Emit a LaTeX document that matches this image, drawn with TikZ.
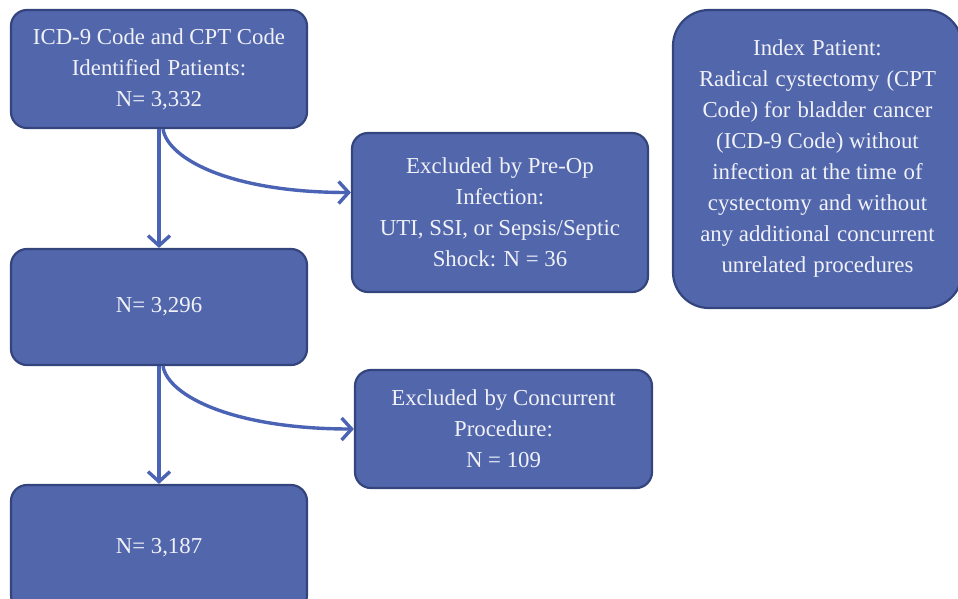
\documentclass[tikz,border=0pt]{standalone}
\usepackage{fontspec}
\setmainfont{Liberation Serif}
\usetikzlibrary{arrows.meta}
\definecolor{boxfill}{HTML}{5266AC}
\definecolor{boxedge}{HTML}{34457E}
\definecolor{arrowc}{HTML}{4A63B4}
\definecolor{txt}{HTML}{F0F2F7}
\newcommand{\wsp}{\hspace{0.06em}}
\begin{document}
\begin{tikzpicture}[x=1pt,y=-1pt,
  flowbox/.style={draw=boxedge, line width=2.2pt, fill=boxfill, rounded corners=16pt,
    text=txt, align=center, inner sep=0pt, font=\fontsize{22.8}{31}\selectfont},
  flowarrow/.style={draw=arrowc, line width=3.4pt, -{Straight Barb[length=10pt,width=22pt]}}]
\useasboundingbox (0,0) rectangle (958,598);
\clip (0,0) rectangle (958,598);
\node[flowbox, minimum width=296pt, minimum height=118pt] (b1) at (159,69)
  {ICD-9 Code and CPT Code\\Identified\wsp\ Patients:\\N= 3,332};
\node[flowbox, minimum width=296pt, minimum height=116pt] (b2) at (159,307) {N= 3,296};
\node[flowbox, minimum width=296pt, minimum height=126pt] (b3) at (159,548) {N= 3,187};
\node[flowbox, minimum width=296pt, minimum height=159pt] (b4) at (500,212.5)
  {Excluded\wsp\ by Pre-Op\\Infection:\\UTI, SSI, or Sepsis/Septic\\Shock: N = 36};
\node[flowbox, minimum width=297pt, minimum height=118pt] (b5) at (503.5,429)
  {Excluded\wsp\ by Concurrent\\Procedure:\\N = 109};
\node[flowbox, rounded corners=36pt, minimum width=289pt, minimum height=298pt] (b6) at (817.5,159)
  {Index\wsp\ Patient:\\Radical\wsp\ cystectomy\wsp\ (CPT\\Code) for\wsp\ bladder\wsp\ cancer\\(ICD-9 Code) without\\infection\wsp\ at the time\wsp\ of\\cystectomy\wsp\ and without\\any additional\wsp\ concurrent\\unrelated\wsp\ procedures};
\draw[flowarrow] (b1.south) -- (b2.north);
\draw[flowarrow] ([xshift=4pt]b1.south) .. controls +(5,30) and +(-120,0) .. ([yshift=20pt]b4.west);
\draw[flowarrow] (b2.south) -- (b3.north);
\draw[flowarrow] ([xshift=4pt]b2.south) .. controls +(5,30) and +(-120,0) .. (b5.west);
\end{tikzpicture}
\end{document}
